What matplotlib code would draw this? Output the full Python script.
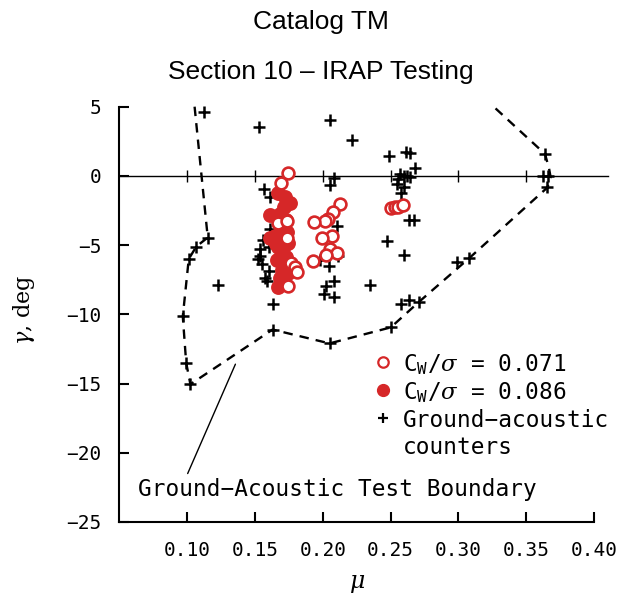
import matplotlib
matplotlib.use('Agg')
import matplotlib.pyplot as plt

# Ground-acoustic counters (+)
ga_mu = [0.1122, 0.1152, 0.1068, 0.1012, 0.0968, 0.0993, 0.1024, 0.1630, 0.2050,
         0.2502, 0.2706, 0.2988, 0.3081, 0.3650, 0.3626, 0.3663, 0.3638,
         0.1228, 0.1532, 0.2055, 0.2215, 0.2080, 0.2055, 0.1564, 0.1610, 0.1613,
         0.1560, 0.1601, 0.1535, 0.1540, 0.1521, 0.1552, 0.1601, 0.1577, 0.1589,
         0.1633, 0.2105, 0.1982, 0.2043, 0.2116, 0.2080, 0.2024, 0.2006, 0.2085,
         0.2492, 0.2615, 0.2644, 0.2681, 0.2571, 0.2600, 0.2620, 0.2644, 0.2558,
         0.2546, 0.2600, 0.2578, 0.2639, 0.2674, 0.2473, 0.2600, 0.2350, 0.2576,
         0.2637]
ga_gamma = [4.60, -4.45, -5.10, -6.00, -10.15, -13.50, -15.05, -11.10, -12.10,
            -10.94, -9.13, -6.22, -5.93, -0.82, 0.00, 0.00, 1.59,
            -7.90, 3.55, 4.04, 2.60, -0.17, -0.65, -0.96, -1.52, -3.85,
            -4.61, -5.12, -5.30, -5.80, -6.02, -6.34, -6.87, -7.40, -7.62,
            -9.23, -3.60, -6.06, -6.54, -5.82, -7.62, -7.98, -8.51, -8.75,
            1.44, 1.75, 1.68, 0.55, 0.14, 0.00, 0.00, -0.10, -0.24,
            -0.58, -0.82, -1.20, -3.22, -3.22, -4.73, -5.70, -7.90, -9.23,
            -8.94]

# C_W/sigma = 0.071 (open circles)
open_mu = [0.1746, 0.1694, 0.1672, 0.1739, 0.1739, 0.1768, 0.1797, 0.1812, 0.1746,
           0.2129, 0.2077, 0.2041, 0.2018, 0.1938, 0.2070, 0.1996, 0.2055, 0.2107,
           0.2026, 0.1930,
           0.2504, 0.2534, 0.2556, 0.2593]
open_gamma = [0.22, -0.50, -3.39, -3.24, -4.47, -6.27, -6.56, -6.92, -7.93,
              -2.02, -2.60, -3.10, -3.24, -3.32, -4.33, -4.47, -5.26, -5.55,
              -5.70, -6.13,
              -2.31, -2.24, -2.24, -2.09]

# C_W/sigma = 0.086 (filled circles)
fill_mu = [0.1672, 0.1724, 0.1761, 0.1717, 0.1613, 0.1687, 0.1731, 0.1694, 0.1739,
           0.1613, 0.1650, 0.1702, 0.1746, 0.1672, 0.1658, 0.1709, 0.1702, 0.1731,
           0.1665, 0.1739, 0.1702, 0.1746, 0.1687, 0.1724, 0.1672]
fill_gamma = [-1.23, -1.51, -1.95, -2.24, -2.81, -2.74, -3.17, -3.68, -4.04,
              -4.47, -4.33, -4.61, -4.83, -5.12, -4.90, -5.19, -5.55, -5.84,
              -6.06, -6.27, -6.78, -6.99, -7.35, -7.71, -8.00]

# ground-acoustic test boundary (dashed)
bnd_mu = [0.1055, 0.1152, 0.1068, 0.1012, 0.0968, 0.0993, 0.1024, 0.1630, 0.2050,
          0.2502, 0.2706, 0.3081, 0.3656, 0.3680, 0.3668, 0.3638, 0.3260]
bnd_gamma = [5.0, -4.45, -5.10, -6.00, -10.15, -13.50, -15.05, -11.10, -12.10,
             -10.94, -9.13, -5.93, -0.84, -0.10, 0.56, 1.59, 5.0]

x_ticks = [0.10, 0.15, 0.20, 0.25, 0.30, 0.35, 0.40]
x_labels = ['0.10', '0.15', '0.20', '0.25', '0.30', '0.35', '0.40']
y_ticks = [5, 0, -5, -10, -15, -20, -25]
y_labels = ['5', '0', '\u22125', '\u221210', '\u221215', '\u221220', '\u221225']

RED = '#d62728'
MONO = 'DejaVu Sans Mono'
plt.rcParams['mathtext.fontset'] = 'dejavuserif'

fig = plt.figure(figsize=(6.36, 5.98), dpi=100)
ax = fig.add_axes([0.1876, 0.1271, 0.7464, 0.6945])

# boundary and zero line
ax.plot(bnd_mu, bnd_gamma, color='black', lw=1.7, dashes=(4, 3), clip_on=False, zorder=2)
ax.plot([0.05, 0.41], [0, 0], color='black', lw=1.0, clip_on=False, zorder=1)
ax.vlines(x_ticks[:-1], -0.42, 0.42, color='black', lw=1.0, zorder=1)

# data
ax.plot(ga_mu, ga_gamma, linestyle='none', marker='+', ms=9, mew=1.8,
        color='black', clip_on=False, zorder=3)
ax.plot(fill_mu, fill_gamma, linestyle='none', marker='o', ms=9.5,
        mfc=RED, mec=RED, mew=1.2, zorder=4)
ax.plot(open_mu, open_gamma, linestyle='none', marker='o', ms=8.5,
        mfc='white', mec=RED, mew=1.9, zorder=5)

# legend (drawn by hand so the two-line label sits like the original)
lx, tx = 0.5555, 0.5977
rows = [0.3853, 0.3178, 0.2504, 0.1854]
ax.plot(lx, rows[0], marker='o', ms=7.5, mfc='white', mec=RED, mew=1.6, transform=ax.transAxes)
ax.plot(lx, rows[1], marker='o', ms=8.5, mfc=RED, mec=RED, transform=ax.transAxes)
ax.plot(lx, rows[2], marker='+', ms=7.5, mew=1.6, color='black', transform=ax.transAxes)
labels = [r'C$_\mathregular{W}$/$\sigma$ = 0.071', r'C$_\mathregular{W}$/$\sigma$ = 0.086',
          'Ground\u2212acoustic', 'counters']
for y, lab in zip(rows, labels):
    ax.text(tx, y, lab, transform=ax.transAxes, family=MONO, fontsize=16.4,
            va='center_baseline', ha='left')

# boundary annotation
ax.text(0.0641, -22.5, 'Ground\u2212Acoustic Test Boundary', family=MONO, fontsize=16.4,
        va='center_baseline', ha='left')
ax.annotate('', xy=(0.1356, -13.6), xytext=(0.1004, -21.5),
            arrowprops=dict(arrowstyle='-', lw=1.0, shrinkA=0, shrinkB=0))

# axes
ax.set_xlim(0.05, 0.40)
ax.set_ylim(-25, 5)
ax.spines['top'].set_visible(False)
ax.spines['right'].set_visible(False)
ax.spines['left'].set_linewidth(1.5)
ax.spines['bottom'].set_linewidth(1.5)
ax.set_xticks(x_ticks)
ax.set_xticklabels(x_labels, family=MONO, fontsize=14)
ax.set_yticks(y_ticks)
ax.set_yticklabels(y_labels, family=MONO, fontsize=14)
ax.tick_params(axis='both', direction='in', length=7.5, width=1.5)
ax.tick_params(axis='x', pad=14)
ax.tick_params(axis='y', pad=12.6)

ax.set_ylabel(r'$\gamma$, deg', family='DejaVu Serif', fontsize=16)
ax.yaxis.set_label_coords(-0.174, 0.51)
ax.set_xlabel(r'$\mu$', fontsize=17)
ax.xaxis.set_label_coords(0.5, -0.118)

fig.text(321 / 636, 1 - 29.5 / 598, 'Catalog TM', ha='center', va='baseline',
         fontsize=19, family='Liberation Sans')
fig.text(321 / 636, 1 - 79 / 598, 'Section 10 \u2013 IRAP Testing', ha='center', va='baseline',
         fontsize=19, family='Liberation Sans')

fig.savefig('out.png', dpi=100)
